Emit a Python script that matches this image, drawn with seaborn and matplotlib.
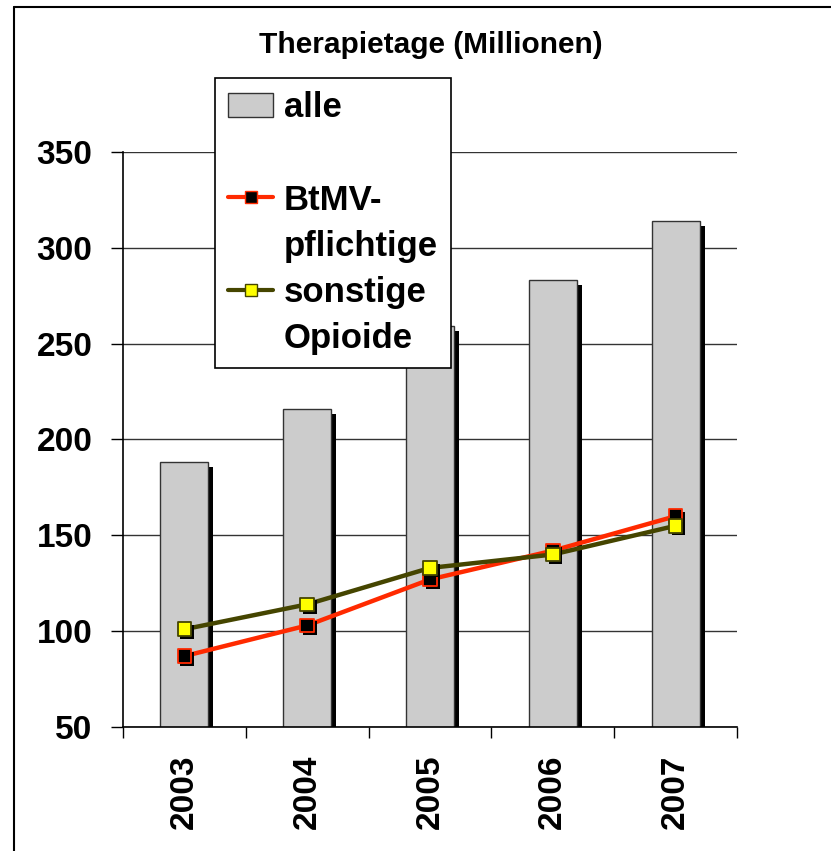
import matplotlib
matplotlib.use('Agg')  # render straight to file, no display
import matplotlib.pyplot as plt
import matplotlib.patheffects as pe
from matplotlib.lines import Line2D
from matplotlib.patches import Patch
import numpy as np
import pandas as pd
import seaborn as sns

# Daten (Therapietage in Millionen)
jahre = ['2003', '2004', '2005', '2006', '2007']
alle = [188, 216, 259, 283, 314]
btmv = [87, 103, 127, 142, 160]
sonstige = [101, 114, 133, 140, 155]
y_ticks = [50, 100, 150, 200, 250, 300, 350]
titel = 'Therapietage (Millionen)'
legende = ['alle', ' ', 'BtMV-', 'pflichtige', 'sonstige', 'Opioide']

ROT = '#ff2a00'
OLIV = '#454500'
GRAU = '#cccccc'

sns.set_theme(style='white')
plt.rcParams['font.family'] = ['Liberation Sans', 'DejaVu Sans']
plt.rcParams['font.weight'] = 'bold'
plt.rcParams['text.color'] = 'black'
plt.rcParams['xtick.color'] = 'black'
plt.rcParams['ytick.color'] = 'black'

df = pd.DataFrame({'Jahr': jahre, 'alle': alle, 'BtMV': btmv, 'sonstige': sonstige})

fig = plt.figure(figsize=(8.31, 8.51), dpi=100)
ax = fig.add_axes([0.148, 0.1457, 0.739, 0.6757])

# Balken mit schwarzem Schatten
sns.barplot(data=df, x='Jahr', y='alle', color=GRAU, saturation=1, edgecolor='#333333',
            linewidth=1, width=0.39, ax=ax, zorder=2)
schatten = [pe.SimplePatchShadow(offset=(3.6, -3.6), shadow_rgbFace='black', alpha=1), pe.Normal()]
for bar in ax.patches:
    bar.set_path_effects(schatten)

# Linien
sns.lineplot(data=df, x='Jahr', y='BtMV', color=ROT, linewidth=3.2, sort=False, ax=ax, zorder=3)
sns.lineplot(data=df, x='Jahr', y='sonstige', color=OLIV, linewidth=3.2, sort=False, ax=ax, zorder=3)

# Marker mit leichtem Schatten
marker_schatten = [pe.SimplePatchShadow(offset=(2, -2), shadow_rgbFace='black', alpha=1), pe.Normal()]
sns.scatterplot(data=df, x='Jahr', y='BtMV', marker='s', s=95, color='black', edgecolor=ROT,
                linewidth=1.3, ax=ax, zorder=4)
ax.collections[-1].set_path_effects(marker_schatten)
sns.scatterplot(data=df, x='Jahr', y='sonstige', marker='s', s=95, color='#ffff00', edgecolor=OLIV,
                linewidth=1.3, ax=ax, zorder=5)
ax.collections[-1].set_path_effects(marker_schatten)

# Achsen
ax.set_xlim(-0.5, len(jahre) - 0.5)
ax.set_ylim(y_ticks[0], y_ticks[-1])
ax.set_yticks(y_ticks)
ax.set_xlabel('')
ax.set_ylabel('')
ax.yaxis.grid(True, color='#333333', linewidth=1)
ax.set_axisbelow(True)
sns.despine(ax=ax)
for s in ['left', 'bottom']:
    ax.spines[s].set_color('black')
    ax.spines[s].set_linewidth(1.2)

ax.tick_params(axis='y', left=True, length=9, width=1, direction='out', pad=13, labelsize=24)
ax.set_xticks(np.arange(len(jahre) + 1) - 0.5, minor=True)
ax.tick_params(axis='x', which='major', bottom=False, length=0, pad=20, labelsize=24, labelrotation=90)
ax.tick_params(axis='x', which='minor', bottom=True, length=8, width=1, direction='out')
for lab in ax.get_xticklabels() + ax.get_yticklabels():
    lab.set_fontweight('bold')

# Legende
handles = [
    Patch(facecolor=GRAU, edgecolor='#333333'),
    Line2D([], [], color='none'),
    Line2D([], [], color=ROT, lw=3, marker='s', markersize=9, markerfacecolor='black', markeredgecolor=ROT),
    Line2D([], [], color='none'),
    Line2D([], [], color=OLIV, lw=3, marker='s', markersize=9, markerfacecolor='#ffff00', markeredgecolor=OLIV),
    Line2D([], [], color='none'),
]
leg = ax.legend(handles, legende, loc='upper left', bbox_to_anchor=(215 / 831, 1 - 78 / 851),
                bbox_transform=fig.transFigure, borderaxespad=0, prop={'size': 25, 'weight': 'bold'},
                frameon=True, fancybox=False, edgecolor='black', facecolor='white', framealpha=1,
                borderpad=0.38, handlelength=1.3, handletextpad=0.3, labelspacing=0.38, handleheight=0.7)
leg.get_frame().set_linewidth(1.2)

# Titel und Rahmen
fig.text(0.519, 0.947, titel, ha='center', va='center', fontsize=21.5, fontweight='bold')
fig.add_artist(Line2D([14 / 831, 14 / 831], [0, 1 - 7 / 851], color='black', lw=1.5, transform=fig.transFigure))
fig.add_artist(Line2D([14 / 831, 1], [1 - 7 / 851, 1 - 7 / 851], color='black', lw=1.5, transform=fig.transFigure))

fig.savefig('out.png', dpi=100)
plt.close(fig)
